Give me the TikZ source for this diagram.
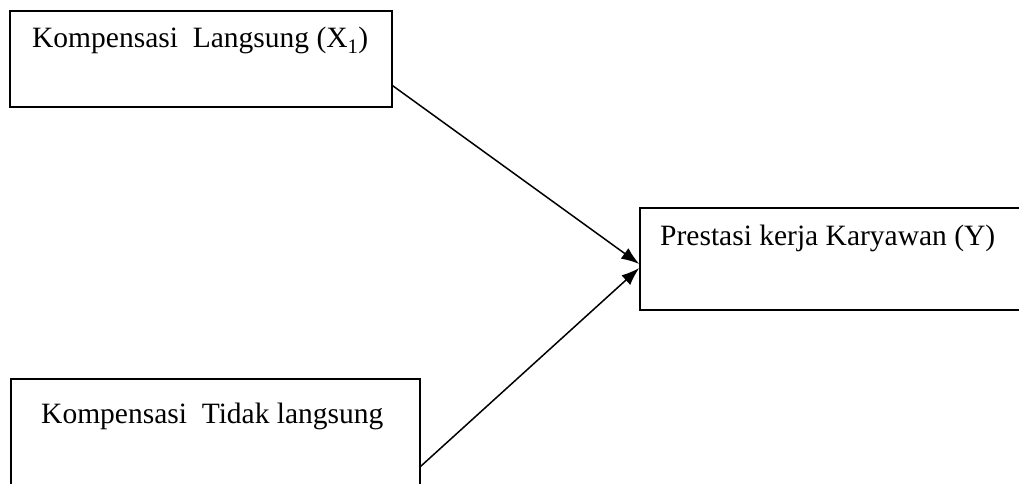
\documentclass[tikz,border=0pt]{standalone}
\usepackage{fontspec}
\setmainfont{Liberation Serif}
\usetikzlibrary{arrows.meta}
\begin{document}
\begin{tikzpicture}[x=1pt,y=1pt,
  box/.style={draw,line width=1.5pt,rectangle,inner sep=0pt},
  lbl/.style={anchor=base west,inner sep=0pt,font=\fontsize{29.5}{34}\selectfont},
  conn/.style={line width=1.5pt,-{Latex[length=18pt,width=13pt]}}]
\useasboundingbox (0,0) rectangle (1019,483);
\begin{scope}
\clip (0,0) rectangle (1019,483);
\node[box,minimum width=382pt,minimum height=96pt] (b1) at (201,424) {};
\node[box,minimum width=410pt,minimum height=102pt] (b2) at (845,224) {};
\node[box,minimum width=409pt,minimum height=116pt] (b3) at (215.5,46) {};
\node[lbl] (t1) at (32,435) {Kompensasi\ \ Langsung (X\textsubscript{1})};
\node[lbl] (t2) at (660,238) {Prestasi kerja Karyawan (Y)};
\node[lbl] (t3) at (41,60) {Kompensasi\ \ Tidak langsung};
\draw[conn] ([yshift=22pt]b1.south east) -- ([yshift=-5pt]b2.west);
\draw[conn] ([yshift=-88pt]b3.north east) -- ([yshift=-9pt]b2.west);
\end{scope}
\end{tikzpicture}
\end{document}
